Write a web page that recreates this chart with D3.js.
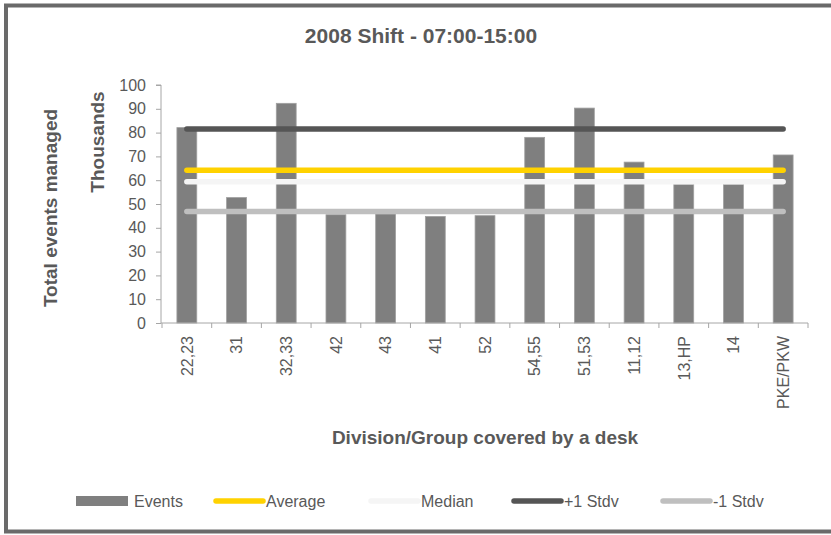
<!DOCTYPE html>
<html>
<head>
<meta charset="utf-8">
<script src="https://cdn.jsdelivr.net/npm/d3@7"></script>
<style>
  body { margin: 0; background: #fff; }
  svg text { font-family: Arial, 'Liberation Sans', sans-serif; fill: #595959; }
</style>
</head>
<body>
<div id="chart"></div>
<script>
// categories on the x axis (desks)
var categories = ['22,23', '31', '32,33', '42', '43', '41', '52', '54,55', '51,53', '11,12', '13,HP', '14', 'PKE/PKW'];

// events per desk, in thousands
var events = [82.1, 52.7, 92.3, 45.5, 45.8, 44.8, 45.1, 78.0, 90.3, 67.6, 58.3, 58.3, 70.6];

// reference lines (thousands)
var average = 64.2;
var median = 59.4;
var plusStdv = 81.5;
var minusStdv = 46.8;

var yTicks = [0, 10, 20, 30, 40, 50, 60, 70, 80, 90, 100];

var width = 831;
var height = 535;

// plot area
var plot = { left: 162, right: 808, top: 85, bottom: 323 };

var svg = d3.select('#chart').append('svg')
  .attr('width', width).attr('height', height);

// chart frame, runs off the right edge like the original
svg.append('rect')
  .attr('x', 6).attr('y', 5.5)
  .attr('width', 840).attr('height', 526)
  .attr('fill', 'none')
  .attr('stroke', '#6a6a6a')
  .attr('stroke-width', 4);

var x = d3.scaleBand().domain(categories).range([plot.left, plot.right]).padding(0);
var y = d3.scaleLinear().domain([0, 100]).range([plot.bottom, plot.top]);

var axisColor = '#a6a6a6';

// y axis
var yAxis = svg.append('g')
  .attr('transform', 'translate(' + (plot.left - 1) + ',0)')
  .call(d3.axisLeft(y).tickValues(yTicks).tickSize(5).tickPadding(10));
yAxis.select('.domain').attr('stroke', axisColor).attr('d', 'M-5,' + y(100) + 'H0V' + y(0));
yAxis.selectAll('.tick line').attr('stroke', axisColor);
yAxis.selectAll('.tick text').style('font-size', '16px').attr('fill', '#595959');

// bars
svg.append('g').selectAll('rect').data(events).enter()
  .append('rect')
  .attr('x', function(d, i) { return x(categories[i]) + x.bandwidth() * 0.3; })
  .attr('y', function(d) { return y(d); })
  .attr('width', x.bandwidth() * 0.4)
  .attr('height', function(d) { return y(0) - y(d); })
  .attr('fill', '#7f7f7f')
  .attr('stroke', '#a0a0a0')
  .attr('stroke-width', 0.8);

// x axis line and boundary ticks
var xAxis = svg.append('g');
xAxis.append('line')
  .attr('x1', plot.left - 1).attr('x2', plot.right)
  .attr('y1', y(0)).attr('y2', y(0))
  .attr('stroke', axisColor);
var bounds = categories.map(function(c) { return x(c); }).concat([plot.right]);
xAxis.selectAll('.xtick').data(bounds).enter()
  .append('line')
  .attr('x1', function(d) { return d; }).attr('x2', function(d) { return d; })
  .attr('y1', y(0)).attr('y2', y(0) + 5)
  .attr('stroke', axisColor);
xAxis.selectAll('.xlabel').data(categories).enter()
  .append('text')
  .attr('transform', function(d) {
    return 'translate(' + (x(d) + x.bandwidth() / 2) + ',' + (y(0) + 13) + ') rotate(-90)';
  })
  .attr('dy', '0.36em')
  .attr('text-anchor', 'end')
  .style('font-size', '16px')
  .text(function(d) { return d; });

// reference lines across the category centres
var lines = [
  { name: 'Average', value: average, color: '#ffd200' },
  { name: 'Median', value: median, color: '#f5f5f5' },
  { name: '+1 Stdv', value: plusStdv, color: '#555555' },
  { name: '-1 Stdv', value: minusStdv, color: '#bfbfbf' }
];
var lineGen = d3.line()
  .x(function(d) { return x(d) + x.bandwidth() / 2; });
lines.forEach(function(l) {
  svg.append('path')
    .datum(categories)
    .attr('d', lineGen.y(function() { return y(l.value); }))
    .attr('fill', 'none')
    .attr('stroke', l.color)
    .attr('stroke-width', 5.5)
    .attr('stroke-linecap', 'round');
});

// titles
svg.append('text')
  .attr('x', 421).attr('y', 43)
  .attr('text-anchor', 'middle')
  .style('font-size', '21px').style('font-weight', 'bold')
  .text('2008 Shift - 07:00-15:00');

svg.append('text')
  .attr('transform', 'translate(57,208) rotate(-90)')
  .attr('text-anchor', 'middle')
  .style('font-size', '19px').style('font-weight', 'bold')
  .text('Total events managed');

svg.append('text')
  .attr('transform', 'translate(104,142) rotate(-90)')
  .attr('text-anchor', 'middle')
  .style('font-size', '19px').style('font-weight', 'bold')
  .text('Thousands');

svg.append('text')
  .attr('x', (plot.left + plot.right) / 2).attr('y', 444)
  .attr('text-anchor', 'middle')
  .style('font-size', '19px').style('font-weight', 'bold')
  .text('Division/Group covered by a desk');

// legend
var legendY = 501;
var legend = svg.append('g');
legend.append('rect')
  .attr('x', 76).attr('y', legendY - 5)
  .attr('width', 52).attr('height', 10)
  .attr('fill', '#7f7f7f');
legend.append('text')
  .attr('x', 134).attr('y', legendY + 6)
  .style('font-size', '16px')
  .text('Events');

var legendX = [213, 368, 511, 660];
lines.forEach(function(l, i) {
  legend.append('line')
    .attr('x1', legendX[i] + 3).attr('x2', legendX[i] + 50)
    .attr('y1', legendY).attr('y2', legendY)
    .attr('stroke', l.color)
    .attr('stroke-width', 5.5)
    .attr('stroke-linecap', 'round');
  legend.append('text')
    .attr('x', legendX[i] + 53).attr('y', legendY + 6)
    .style('font-size', '16px')
    .text(l.name);
});
</script>
</body>
</html>
